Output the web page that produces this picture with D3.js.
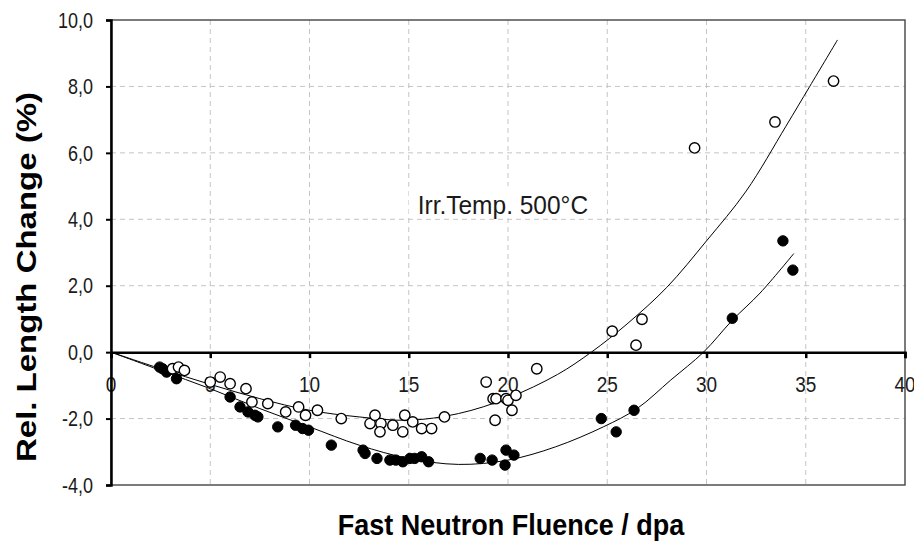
<!DOCTYPE html>
<html>
<head>
<meta charset="utf-8">
<script src="https://cdn.jsdelivr.net/npm/d3@7"></script>
<style>
  body { margin: 0; background: #fff; }
  svg { display: block; }
  .lbl { font-family: "Liberation Sans", Arial, sans-serif; fill: #1a1a1a; }
  .axis-title { font-family: "Liberation Sans", Arial, sans-serif; font-weight: bold; fill: #000; }
</style>
</head>
<body>
<div id="chart"></div>
<script>
// open circles (upper series)
const openX = [3.1, 3.4, 3.7, 5.0, 5.5, 6.0, 6.8, 7.1, 7.9, 8.8, 9.45, 9.8, 10.4, 11.6, 13.05, 13.3, 13.6, 13.55,
    14.2, 14.8, 14.7, 15.2, 15.65, 16.15, 16.8, 18.9, 19.25, 19.4, 19.35, 19.9, 20.0, 20.2, 20.4, 21.45,
    25.25, 26.45, 26.75, 29.4, 33.45, 36.4];
const openY = [-0.5, -0.45, -0.55, -0.9, -0.75, -0.95, -1.1, -1.5, -1.55, -1.8, -1.65, -1.9, -1.75, -2.0, -2.15, -1.9, -2.15, -2.4,
    -2.2, -1.9, -2.4, -2.1, -2.3, -2.3, -1.95, -0.9, -1.4, -1.4, -2.05, -1.4, -1.45, -1.75, -1.3, -0.5,
    0.63, 0.21, 0.99, 6.15, 6.93, 8.16];

// filled circles (lower series)
const filledX = [2.45, 2.6, 2.8, 3.3, 6.0, 6.5, 6.9, 7.25, 7.4, 8.4, 9.3, 9.65, 9.95, 11.1, 12.7, 12.8, 13.4,
    14.05, 14.35, 14.7, 15.06, 15.3, 15.65, 16.0, 18.6, 19.2, 19.85, 19.9, 20.3, 24.7, 25.45, 26.35,
    31.3, 33.85, 34.35];
const filledY = [-0.45, -0.5, -0.6, -0.8, -1.35, -1.65, -1.8, -1.9, -1.95, -2.25, -2.2, -2.3, -2.35, -2.8, -2.95, -3.05, -3.2,
    -3.25, -3.25, -3.3, -3.2, -3.2, -3.15, -3.3, -3.2, -3.25, -3.4, -2.95, -3.1, -2.0, -2.4, -1.75,
    1.02, 3.35, 2.47];

// trend lines
const openFitX = [0, 2.5, 5, 7.5, 10, 12.5, 15, 17.5, 20, 22.5, 24.2, 26, 28, 30, 32, 34, 35.2, 36.6];
const openFitY = [0, -0.5, -0.97, -1.4, -1.75, -1.95, -2.05, -1.85, -1.38, -0.67, 0, 0.85, 1.95, 3.35, 4.85, 6.8, 8.0, 9.4];
const filledFitX = [0, 2.5, 5, 7.5, 10, 12.5, 15, 17.5, 20, 22.4, 24.8, 26.5, 28.2, 29.85, 31.3, 32.7, 34.4];
const filledFitY = [0, -0.55, -1.1, -1.7, -2.25, -2.8, -3.2, -3.38, -3.25, -2.85, -2.25, -1.7, -0.84, 0, 0.96, 1.78, 2.97];

const xTicks = [0, 5, 10, 15, 20, 25, 30, 35, 40];
const yTicks = [-4, -2, 0, 2, 4, 6, 8, 10];
const annotation = 'Irr.Temp. 500°C';

const W = 914, H = 544;
const margin = {top: 20, right: 9, bottom: 59, left: 111};
const width = W - margin.left - margin.right,
    height = H - margin.top - margin.bottom;
const stretch = 1.18; // the picture is taller than its type, text looks stretched

const x = d3.scaleLinear().domain([0, 40]).range([0, width]);
const y = d3.scaleLinear().domain([-4, 10]).range([height, 0]);
const fmt = v => d3.format('.1f')(Math.abs(v)).replace('.', ',');
const fmtSigned = v => (v < 0 ? '-' : '') + fmt(v);

const svg = d3.select('#chart').append('svg')
    .attr('width', W)
    .attr('height', H);

const g = svg.append('g')
    .attr('transform', `translate(${margin.left}, ${margin.top})`);

// grid
g.append('g').selectAll('line')
    .data(xTicks.filter(d => d > 0 && d < 40))
    .enter().append('line')
    .attr('x1', d => x(d)).attr('x2', d => x(d))
    .attr('y1', 0).attr('y2', height)
    .attr('stroke', '#c4c4c4').attr('stroke-dasharray', '5,4');

g.append('g').selectAll('line')
    .data(yTicks.filter(d => d > -4 && d < 10 && d !== 0))
    .enter().append('line')
    .attr('x1', 0).attr('x2', width)
    .attr('y1', d => y(d)).attr('y2', d => y(d))
    .attr('stroke', '#c4c4c4').attr('stroke-dasharray', '5,4');

// annotation with white box
g.append('rect')
    .attr('x', x(15)).attr('y', y(5.0))
    .attr('width', 198).attr('height', y(4) - y(5.0) - 1)
    .attr('fill', '#fff');
g.append('g')
    .attr('transform', `translate(${x(15.45)}, ${y(4.4) + 8}) scale(1, 1.05)`)
    .append('text')
    .attr('class', 'lbl')
    .style('font-size', '24.5px')
    .text(annotation);

// plot frame
g.append('rect')
    .attr('x', 0).attr('y', 0)
    .attr('width', width).attr('height', height)
    .attr('fill', 'none').attr('stroke', '#444').attr('stroke-width', 1.4);

// zero axis with ticks hanging below
g.append('g')
    .attr('transform', `translate(0, ${y(0)})`)
    .call(d3.axisBottom(x).tickValues(xTicks).tickSize(6).tickFormat(''))
    .call(a => a.select('.domain').attr('stroke', '#000').attr('stroke-width', 2.5))
    .call(a => a.selectAll('.tick line').attr('stroke', '#000').attr('stroke-width', 2.5));

g.append('g').selectAll('g')
    .data(xTicks)
    .enter().append('g')
    .attr('transform', d => `translate(${x(d)}, ${y(0) + 40}) scale(1, ${stretch})`)
    .append('text')
    .attr('class', 'lbl')
    .style('font-size', '19px')
    .attr('text-anchor', 'middle')
    .text(d => d);

// left axis
g.append('g')
    .call(d3.axisLeft(y).tickValues(yTicks).tickSize(5).tickFormat(''))
    .call(a => a.select('.domain').attr('stroke', '#000').attr('stroke-width', 2.5))
    .call(a => a.selectAll('.tick line').attr('stroke', '#000').attr('stroke-width', 2));

g.append('g').selectAll('g')
    .data(yTicks)
    .enter().append('g')
    .attr('transform', d => `translate(-18, ${y(d)}) scale(1, ${stretch})`)
    .append('text')
    .attr('class', 'lbl')
    .style('font-size', '18px')
    .attr('text-anchor', 'end')
    .attr('dy', '0.36em')
    .text(fmtSigned);

// trend lines
const line = d3.line()
    .x(d => x(d[0]))
    .y(d => y(d[1]))
    .curve(d3.curveCatmullRom);

g.append('path')
    .datum(openFitX.map((v, i) => [v, openFitY[i]]))
    .attr('d', line)
    .attr('fill', 'none').attr('stroke', '#000').attr('stroke-width', 1);

g.append('path')
    .datum(filledFitX.map((v, i) => [v, filledFitY[i]]))
    .attr('d', line)
    .attr('fill', 'none').attr('stroke', '#000').attr('stroke-width', 1);

// markers
g.append('g').selectAll('circle')
    .data(filledX.map((v, i) => [v, filledY[i]]))
    .enter().append('circle')
    .attr('cx', d => x(d[0])).attr('cy', d => y(d[1]))
    .attr('r', 5.2)
    .attr('fill', '#000').attr('stroke', '#000').attr('stroke-width', 1);

g.append('g').selectAll('circle')
    .data(openX.map((v, i) => [v, openY[i]]))
    .enter().append('circle')
    .attr('cx', d => x(d[0])).attr('cy', d => y(d[1]))
    .attr('r', 5.2)
    .attr('fill', '#fff').attr('stroke', '#000').attr('stroke-width', 1.4);

// axis titles
svg.append('text')
    .attr('class', 'axis-title')
    .attr('transform', 'translate(36, 277) rotate(-90)')
    .attr('text-anchor', 'middle')
    .style('font-size', '28px')
    .attr('textLength', 370)
    .attr('lengthAdjust', 'spacingAndGlyphs')
    .text('Rel. Length Change (%)');

svg.append('g')
    .attr('transform', 'translate(511, 535) scale(1, 1.1)')
    .append('text')
    .attr('class', 'axis-title')
    .style('font-size', '27px')
    .attr('text-anchor', 'middle')
    .text('Fast Neutron Fluence / dpa');
</script>
</body>
</html>
